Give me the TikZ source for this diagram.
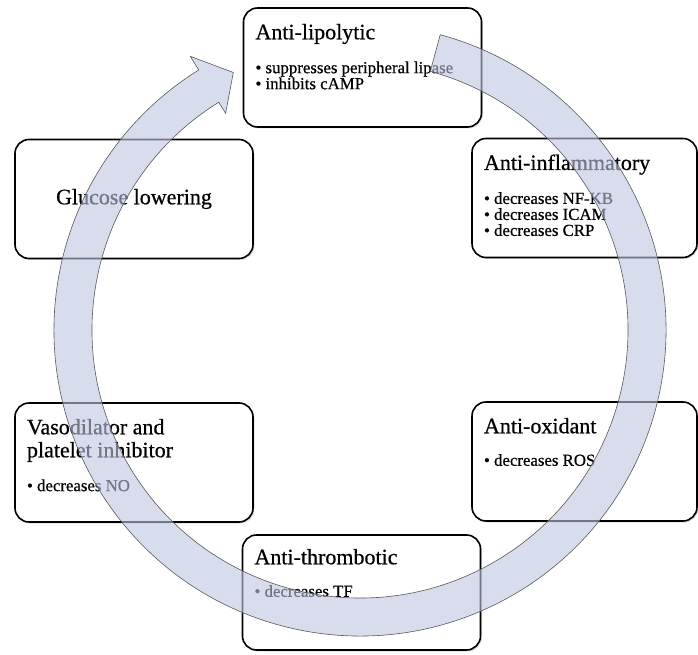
\documentclass[tikz,border=0pt]{standalone}
\usepackage{fontspec}
\setmainfont{Liberation Serif}[FakeBold=0.6]
\usepackage{tikz}
\usetikzlibrary{shadows}
\definecolor{ringblue}{RGB}{190,198,226}
\newcommand{\titlefont}{\fontsize{22}{23}\selectfont}
\newcommand{\itemfont}{\fontsize{16.8}{16}\selectfont}
% title on top, bullets below, all kept at the top of the box
\newcommand{\effect}[3][214pt]{\parbox[t][87pt][t]{#1}{{\titlefont #2\par}\vspace{16.5pt}{\itemfont #3\par}}}
\tikzset{
  effect/.style={draw, line width=1.6pt, rounded corners=14pt, fill=white, inner sep=0pt,
    minimum width=238pt, minimum height=119pt,
    drop shadow={shadow xshift=1.5pt, shadow yshift=-1.5pt, opacity=0.25}},
  narrow/.style={effect, minimum width=225pt},
  cycle arrow/.style={fill=ringblue, fill opacity=0.6, draw=black!65, line width=0.6pt}
}

\begin{document}
\begin{tikzpicture}[x=1pt,y=1pt]
  \useasboundingbox (0,0) rectangle (698,654);
  \node[effect] (lipo) at (362.5,586.5) {\effect{Anti-lipolytic}{\textbullet\ suppresses peripheral lipase\\ \textbullet\ inhibits cAMP}};
  \node[narrow] (inflam) at (584.5,456) {\effect[201pt]{Anti-inflammatory}{\textbullet\ decreases NF-KB\\ \textbullet\ decreases ICAM\\ \textbullet\ decreases CRP}};
  \node[effect] (gluc) at (134,455) {\titlefont Glucose lowering};
  \node[effect] (vaso) at (134,191.5) {\effect{Vasodilator and\\ platelet inhibitor}{\textbullet\ decreases NO}};
  \node[narrow] (oxid) at (584.5,192.5) {\effect[201pt]{Anti-oxidant}{\textbullet\ decreases ROS}};
  \node[effect, minimum height=115pt] (thromb) at (361.5,61.5) {\effect{Anti-thrombotic}{\textbullet\ decreases TF}};
  % the big circular arrow, drawn over the boxes
  \coordinate (hub) at (360,324);
  \begin{scope}[shift={(hub)}]
    \filldraw[cycle arrow] (74.8:306) arc[start angle=74.8, end angle=-238.2, radius=306]
      -- (-238.2:322) -- (-243.8:287) -- (-238.2:255) -- (-238.2:268)
      arc[start angle=-238.2, end angle=74.8, radius=268] -- cycle;
  \end{scope}
\end{tikzpicture}
\end{document}
